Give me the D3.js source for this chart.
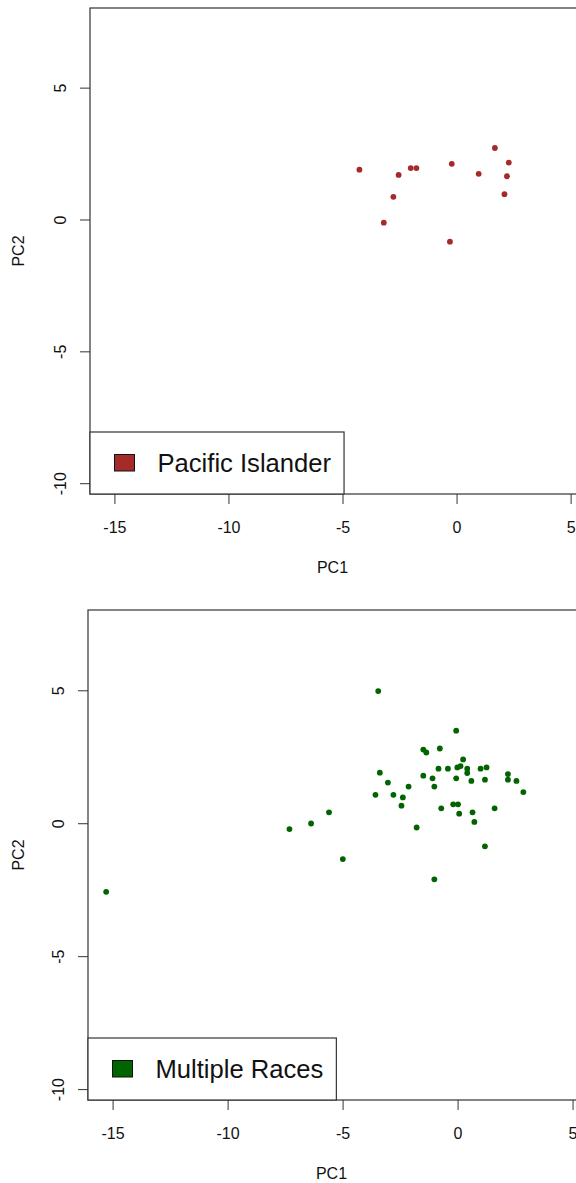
<!DOCTYPE html>
<html>
<head>
<meta charset="utf-8">
<script src="https://cdn.jsdelivr.net/npm/d3@7"></script>
<style>
  html, body { margin: 0; padding: 0; background: #fff; }
  svg { display: block; font-family: "Liberation Sans", Arial, sans-serif; }
</style>
</head>
<body>
<svg id="chart" width="576" height="1183"></svg>
<script>
// Principal component scores, one group per panel
const pacificPC1 = [-4.26, -2.54, -2.01, -1.76, -0.21, 1.68, 2.29, 0.97, 2.21, 2.10, -2.77, -3.19, -0.29];
const pacificPC2 = [1.89, 1.69, 1.95, 1.95, 2.11, 2.71, 2.16, 1.73, 1.64, 0.96, 0.86, -0.12, -0.84];

const multiPC1 = [-3.45, -0.06, -1.49, -1.36, -0.77, 0.24, -0.83, -0.42, -0.01, 0.13,
                  0.42, 0.42, 1.00, 1.26, -3.38, -3.03, -1.49, -1.09, -0.06, 0.60,
                  1.19, 2.19, 2.19, 2.56, 2.86, -2.13, -1.01, -3.57, -2.79, -2.38,
                  -2.44, -5.59, -6.37, -7.31, -1.78, -0.71, -0.19, 0.02, 0.07, 0.65,
                  0.73, 1.61, 1.19, -4.99, -1.01, -15.28];
const multiPC2 = [4.97, 3.48, 2.77, 2.66, 2.81, 2.40, 2.05, 2.05, 2.10, 2.15,
                  2.05, 1.89, 2.05, 2.10, 1.90, 1.53, 1.79, 1.69, 1.69, 1.59,
                  1.64, 1.85, 1.64, 1.59, 1.17, 1.38, 1.38, 1.07, 1.07, 0.97,
                  0.66, 0.41, -0.01, -0.22, -0.16, 0.56, 0.71, 0.71, 0.36, 0.41,
                  0.05, 0.56, -0.87, -1.35, -2.11, -2.58];

const groupNames = ["Pacific Islander", "Multiple Races"];
const groupColors = ["#A52A2A", "#006400"];

const xLimits = [-16.07, 5.28];
const yLimits = [-10.41, 8.02];
const xTicks = [-15, -10, -5, 0, 5];
const yTicks = [-10, -5, 0, 5];

const svg = d3.select("#chart");
const ink = "#333";

const panels = [
  { x: pacificPC1, y: pacificPC2, name: groupNames[0], color: groupColors[0],
    left: 90, right: 577, top: 8, bottom: 494 },
  { x: multiPC1, y: multiPC2, name: groupNames[1], color: groupColors[1],
    left: 88, right: 579, top: 610, bottom: 1100 }
];

panels.forEach(p => {
  const xs = d3.scaleLinear().domain(xLimits).range([p.left, p.right]);
  const ys = d3.scaleLinear().domain(yLimits).range([p.bottom, p.top]);
  const g = svg.append("g");

  // points
  g.append("g").selectAll("circle")
    .data(d3.range(p.x.length))
    .join("circle")
    .attr("cx", i => xs(p.x[i]))
    .attr("cy", i => ys(p.y[i]))
    .attr("r", 2.9)
    .attr("fill", p.color);

  // x axis
  const xAxis = d3.axisBottom(xs).tickValues(xTicks).tickSize(10).tickPadding(0)
    .tickFormat(d3.format("d"));
  const xg = g.append("g").attr("transform", `translate(0,${p.bottom})`).call(xAxis);
  xg.select(".domain").remove();
  xg.selectAll(".tick line").attr("stroke", ink);
  xg.selectAll(".tick text")
    .attr("y", 33).attr("dy", "0.35em")
    .attr("font-size", 16).attr("fill", "#111")
    .attr("font-family", "Liberation Sans, Arial, sans-serif")
    .text(d => d < 0 ? "-" + Math.abs(d) : d);

  // y axis with rotated labels
  const yAxis = d3.axisLeft(ys).tickValues(yTicks).tickSize(10).tickFormat(d3.format("d"));
  const yg = g.append("g").attr("transform", `translate(${p.left},0)`).call(yAxis);
  yg.select(".domain").remove();
  yg.selectAll(".tick line").attr("stroke", ink);
  yg.selectAll(".tick text")
    .attr("x", null).attr("dy", null)
    .attr("transform", "translate(-30,0) rotate(-90)")
    .attr("text-anchor", "middle").attr("dy", "0.35em")
    .attr("font-size", 16).attr("fill", "#111")
    .attr("font-family", "Liberation Sans, Arial, sans-serif")
    .text(d => d < 0 ? "-" + Math.abs(d) : d);

  // plot frame
  g.append("rect")
    .attr("x", p.left).attr("y", p.top)
    .attr("width", p.right - p.left).attr("height", p.bottom - p.top)
    .attr("fill", "none").attr("stroke", ink).attr("stroke-width", 1.2);

  // axis titles
  g.append("text")
    .attr("x", (p.left + 575) / 2).attr("y", p.bottom + 73).attr("dy", "0.35em")
    .attr("text-anchor", "middle").attr("font-size", 16).attr("fill", "#111")
    .text("PC1");
  g.append("text")
    .attr("transform", `translate(18,${(p.top + p.bottom) / 2}) rotate(-90)`)
    .attr("dy", "0.35em")
    .attr("text-anchor", "middle").attr("font-size", 16).attr("fill", "#111")
    .text("PC2");

  // legend in the lower-left corner
  const legH = 62;
  const legTop = p.bottom - legH;
  const leg = g.append("g");
  const box = leg.append("rect")
    .attr("x", p.left).attr("y", legTop).attr("height", legH)
    .attr("fill", "#fff").attr("stroke", ink).attr("stroke-width", 1.2);
  leg.append("rect")
    .attr("x", p.left + 24.5).attr("y", legTop + legH / 2 - 8.5)
    .attr("width", 20).attr("height", 16.5)
    .attr("fill", p.color).attr("stroke", "#111").attr("stroke-width", 1);
  const label = leg.append("text")
    .attr("x", p.left + 67.5).attr("y", legTop + legH / 2 + 9.3)
    .attr("font-size", 25.6).attr("fill", "#111")
    .text(p.name);
  const tw = label.node().getComputedTextLength();
  box.attr("width", 67.5 + tw + 13);
});
</script>
</body>
</html>
